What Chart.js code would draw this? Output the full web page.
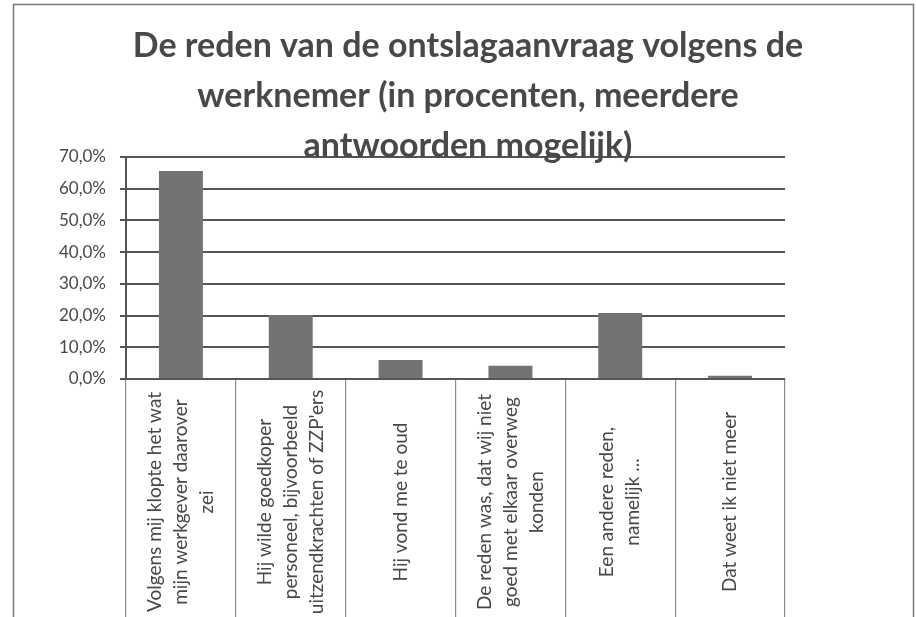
<!DOCTYPE html>
<html lang="nl">
<head>
<meta charset="utf-8">
<title>De reden van de ontslagaanvraag volgens de werknemer</title>
<script src="https://cdn.jsdelivr.net/npm/chart.js@4.4.1/dist/chart.umd.min.js"></script>
<style>
  html, body { margin: 0; padding: 0; background: #fff; }
  #chart { display: block; }
</style>
</head>
<body>
<canvas id="chart" width="916" height="617"></canvas>
<script>
const titleLines = [
    'De reden van de ontslagaanvraag volgens de',
    'werknemer (in procenten, meerdere',
    'antwoorden mogelijk)'
];
const categories = [
    ['Volgens mij klopte het wat', 'mijn werkgever daarover', 'zei'],
    ['Hij wilde goedkoper', 'personeel, bijvoorbeeld', "uitzendkrachten of ZZP'ers"],
    ['Hij vond me te oud'],
    ['De reden was, dat wij niet', 'goed met elkaar overweg', 'konden'],
    ['Een andere reden,', 'namelijk ...'],
    ['Dat weet ik niet meer']
];
const percentages = [65.6, 20.2, 6.0, 4.2, 20.8, 1.0];
const yMin = 0;
const yMax = 70;
const yStep = 10;

const textColor = '#484848';
const lineColor = '#555555';

// outer frame of the (scanned) chart
const framePlugin = {
    id: 'frame',
    beforeDraw(chart) {
        const ctx = chart.ctx;
        ctx.save();
        ctx.fillStyle = '#fff';
        ctx.fillRect(0, 0, chart.width, chart.height);
        ctx.strokeStyle = '#777';
        ctx.lineWidth = 1.5;
        ctx.strokeRect(13.5, 4.5, 900, 700);
        ctx.restore();
    }
};

// rotated, multi-line category labels, centred in each column
const xLabelPlugin = {
    id: 'xLabels',
    afterDraw(chart) {
        const ctx = chart.ctx;
        const x = chart.scales.x;
        const centreY = 502;
        const lineGap = 26;
        ctx.save();
        ctx.font = '19px Lato';
        ctx.fillStyle = textColor;
        ctx.textAlign = 'center';
        ctx.textBaseline = 'middle';
        categories.forEach((lines, i) => {
            const cx = x.getPixelForValue(i);
            lines.forEach((line, j) => {
                const lx = cx + (j - (lines.length - 1) / 2) * lineGap;
                ctx.save();
                ctx.translate(lx, centreY);
                ctx.rotate(-Math.PI / 2);
                ctx.fillText(line, 0, 0);
                ctx.restore();
            });
        });
        ctx.restore();
    }
};

new Chart(document.getElementById('chart'), {
    type: 'bar',
    data: {
        labels: categories.map(c => c.join(' ')),
        datasets: [{
            data: percentages,
            backgroundColor: '#737373',
            borderWidth: 0,
            barPercentage: 0.4,
            categoryPercentage: 1.0
        }]
    },
    options: {
        responsive: false,
        animation: false,
        devicePixelRatio: 1,
        layout: {
            padding: { left: 20, right: 0, top: 0, bottom: 0 }
        },
        plugins: {
            legend: { display: false },
            tooltip: { enabled: false },
            title: {
                display: true,
                text: titleLines,
                color: textColor,
                font: { family: 'Lato', size: 34, weight: 'bold', lineHeight: '50px' },
                padding: { top: 21, bottom: -14 }
            }
        },
        scales: {
            x: {
                ticks: { display: false },
                // column separators below the plot come from the offset grid ticks
                grid: {
                    offset: true,
                    drawOnChartArea: false,
                    drawTicks: true,
                    tickLength: 238,
                    color: '#8a8a8a',
                    lineWidth: 1.2
                },
                border: { color: lineColor, width: 2 }
            },
            y: {
                min: yMin,
                max: yMax,
                ticks: {
                    stepSize: yStep,
                    color: textColor,
                    padding: 14,
                    font: { family: 'Lato', size: 17 },
                    callback: v => v.toFixed(1).replace('.', ',') + '%'
                },
                grid: {
                    color: lineColor,
                    lineWidth: 2,
                    tickLength: 6
                },
                border: { color: lineColor, width: 2 },
                afterFit(scale) { scale.width = 106; }
            },
            // empty box that keeps the plot area clear of the right side
            spacer: {
                position: 'right',
                ticks: { display: false },
                grid: { display: false },
                border: { display: false },
                afterFit(scale) { scale.width = 131; }
            }
        }
    },
    plugins: [framePlugin, xLabelPlugin]
});
</script>
</body>
</html>
